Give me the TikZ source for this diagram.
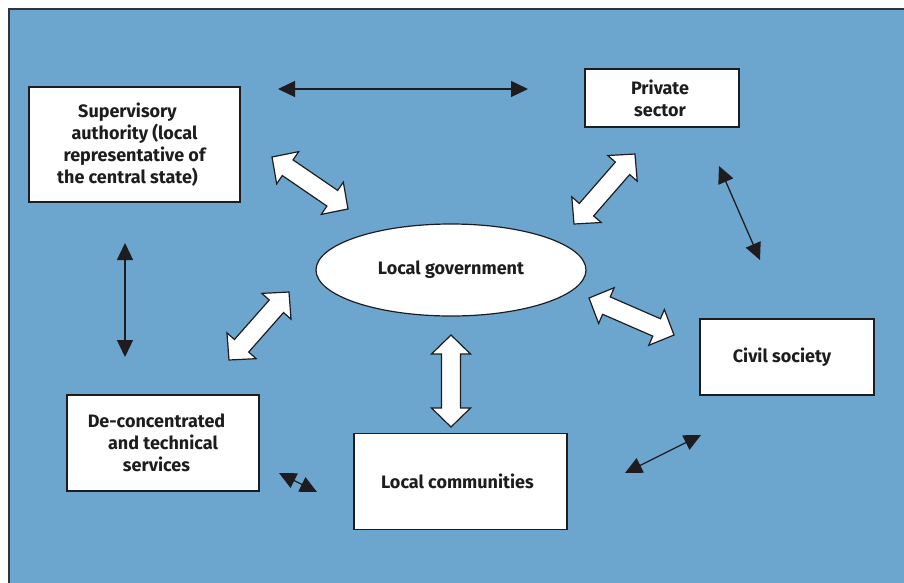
\documentclass[tikz,border=0pt]{standalone}
\usepackage{fontspec}
\setmainfont{Fira Sans}
\usetikzlibrary{shapes.geometric,arrows.meta,calc}
\definecolor{bgblue}{RGB}{108,166,206}
\definecolor{framegray}{RGB}{50,52,56}
\definecolor{inkblack}{RGB}{30,28,30}

% white block arrow between two named points
\newcommand{\fatarrow}[2]{%
  \path let \p1=($(#2)-(#1)$), \n1={atan2(\y1,\x1)}, \n2={veclen(\x1,\y1)} in
    \pgfextra{\xdef\fatang{\n1}\xdef\fatlen{\n2}};
  \begin{scope}[shift={(#1)}, rotate=\fatang]
    \draw[fatarr] (0,0) -- (19,19.5) -- (19,9.5) -- (\fatlen-19,9.5) -- (\fatlen-19,19.5)
      -- (\fatlen,0) -- (\fatlen-19,-19.5) -- (\fatlen-19,-9.5) -- (19,-9.5) -- (19,-19.5) -- cycle;
  \end{scope}}
% pad a line on the right so the text sits a bit to the left
\newcommand{\lpad}[2]{#2\hspace*{#1pt}}

\begin{document}
\begin{tikzpicture}[x=1pt, y=-1pt,
    box/.style={draw=inkblack, fill=white, line width=1.5pt, align=center, inner sep=0pt},
    thin/.style={draw=inkblack, line width=1.3pt,
      {Triangle[length=17pt,width=16pt]}-{Triangle[length=17pt,width=16pt]}},
    fatarr/.style={draw=inkblack, fill=white, line width=1.2pt, line join=miter},
    every node/.style={text=inkblack, font=\bfseries\fontsize{18}{22}\selectfont}]
  \useasboundingbox (0,0) rectangle (904,582);
  \clip (0,0) rectangle (904,582);

  % background frame
  \draw[framegray, line width=2pt, fill=bgblue] (9,9) rectangle (920,600);

  % boxes
  \node[box, minimum width=211, minimum height=115] (super) at (134.5,144.5)
    {\lpad{14}{Supervisory}\\\lpad{14}{authority (local}\\\lpad{14}{representative of}\\\lpad{14}{the central state)}};
  \node[box, minimum width=154, minimum height=58] (private) at (662,98)
    {\lpad{4}{Private}\\\lpad{4}{sector}};
  \node[box, minimum width=192, minimum height=96] (deconc) at (163,443)
    {\lpad{13}{De-concentrated}\\\lpad{13}{and technical}\\\lpad{13}{services}};
  \node[box, minimum width=213, minimum height=96] (commun) at (460.5,481.5)
    {\lpad{6}{Local communities}};
  \node[box, minimum width=174, minimum height=76] (civil) at (787,357)
    {\lpad{10}{Civil society}};
  \node[ellipse, draw=inkblack, fill=white, line width=1.2pt, inner sep=0pt,
    minimum width=270, minimum height=92] (gov) at (451,270) {Local government};

  % end points of the arrows
  \coordinate (h1) at (278,89);  \coordinate (h2) at (528,89);
  \coordinate (v1) at (125,243); \coordinate (v2) at (125,357);
  \coordinate (r1) at (719,166); \coordinate (r2) at (760,260);
  \coordinate (b1) at (625,473); \coordinate (b2) at (701,435);
  \coordinate (s1) at (279,473); \coordinate (s2) at (317,492);

  \coordinate (supgov1) at (272,157); \coordinate (supgov2) at (348,209);
  \coordinate (decgov1) at (229,360); \coordinate (decgov2) at (289,292);
  \coordinate (prigov1) at (574,224); \coordinate (prigov2) at (635,154);
  \coordinate (civgov1) at (589,298); \coordinate (civgov2) at (674,335);
  \coordinate (comgov1) at (451,335); \coordinate (comgov2) at (451,427);

  % thin arrows
  \draw[thin] (h1) -- (h2);
  \draw[thin] (v1) -- (v2);
  \draw[thin] (r1) -- (r2);
  \draw[thin] (b1) -- (b2);
  \draw[thin] (s1) -- (s2);

  % block arrows
  \fatarrow{supgov1}{supgov2}
  \fatarrow{decgov1}{decgov2}
  \fatarrow{prigov1}{prigov2}
  \fatarrow{civgov1}{civgov2}
  \fatarrow{comgov1}{comgov2}
\end{tikzpicture}
\end{document}
